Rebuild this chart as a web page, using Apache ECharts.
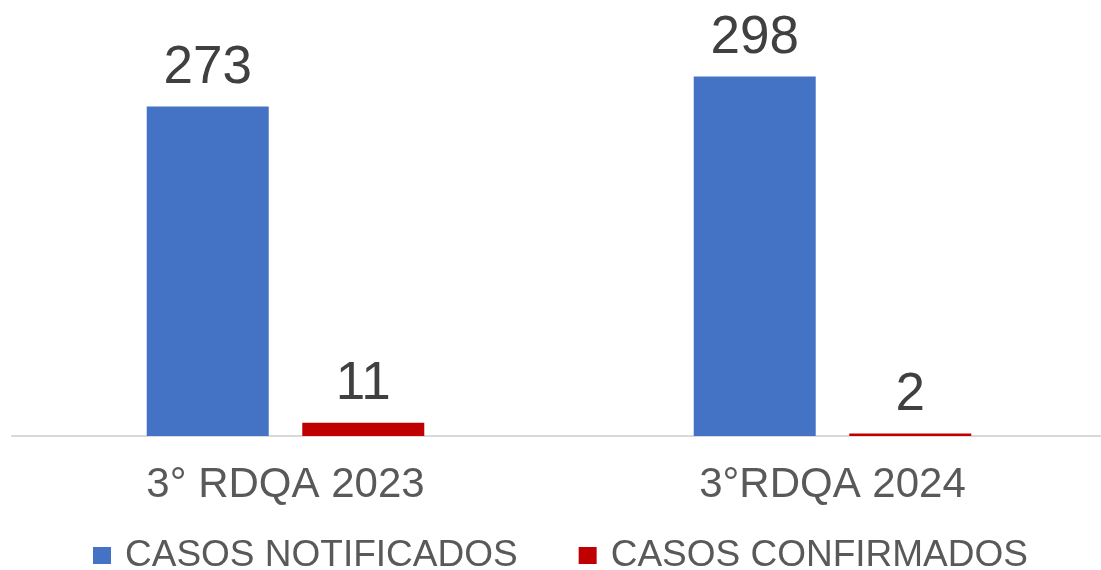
<!DOCTYPE html>
<html>
<head>
<meta charset="utf-8">
<script src="https://cdn.jsdelivr.net/npm/echarts@6/dist/echarts.min.js"></script>
<style>
  html, body { margin: 0; padding: 0; background: #fff; overflow: hidden; }
  #main { width: 1106px; height: 570px; }
</style>
</head>
<body>
<div id="main"></div>
<script>
// datos del gráfico
var categorias = ['3° RDQA 2023', '3°RDQA 2024'];
var notificados = [273, 298];
var confirmados = [11, 2];
var nombres = ['CASOS NOTIFICADOS', 'CASOS CONFIRMADOS'];

var fuente = "'Liberation Sans', Arial, sans-serif";

var myChart = echarts.init(document.getElementById('main'));

var etiqueta = {
  show: true,
  position: 'top',
  distance: 12,
  color: '#404040',
  fontSize: 53,
  fontFamily: fuente
};

myChart.setOption({
  animation: false,
  color: ['#4472C4', '#C00000'],
  legend: {
    data: nombres,
    left: 93,
    top: 537,
    padding: 0,
    icon: 'rect',
    itemWidth: 18,
    itemHeight: 17,
    itemGap: 61,
    textStyle: {
      color: '#595959',
      fontSize: 37,
      fontFamily: fuente,
      padding: [0, 0, 0, 9]
    }
  },
  grid: {
    left: 12,
    right: 0,
    top: 74,
    bottom: 134
  },
  xAxis: {
    type: 'category',
    data: categorias,
    axisLine: { lineStyle: { color: '#d9d9d9', width: 2 } },
    axisTick: { show: false },
    axisLabel: {
      color: '#595959',
      fontSize: 42,
      fontFamily: fuente,
      margin: 28
    }
  },
  yAxis: {
    type: 'value',
    min: 0,
    max: 300,
    show: false,
    splitLine: { show: false }
  },
  series: [
    {
      name: nombres[0],
      type: 'bar',
      data: notificados,
      barWidth: 122,
      barGap: '27.5%',
      label: etiqueta
    },
    {
      name: nombres[1],
      type: 'bar',
      data: confirmados,
      barWidth: 122,
      label: etiqueta
    }
  ]
});
</script>
</body>
</html>
